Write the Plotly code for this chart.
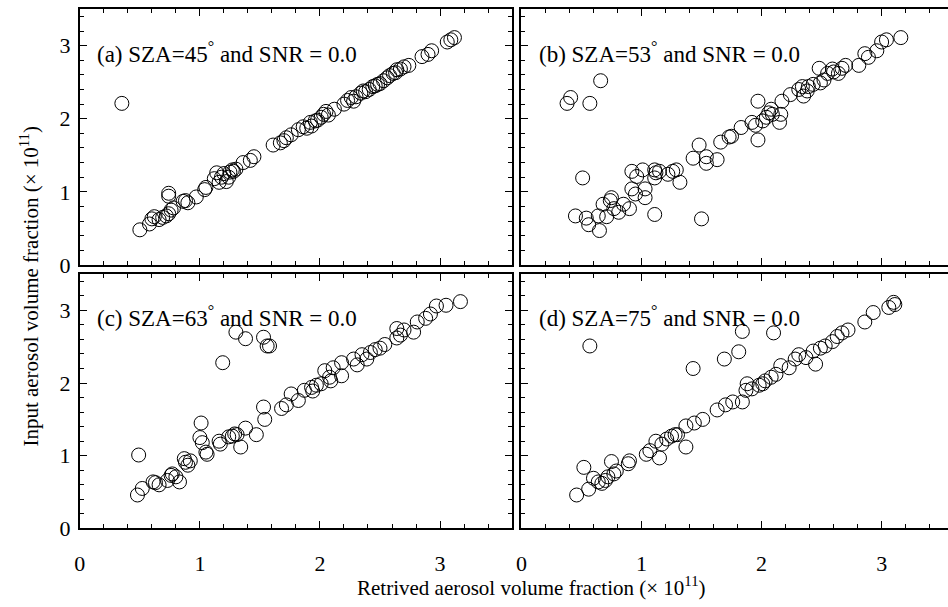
import plotly.graph_objects as go

# ---------------- data (x10^11) ----------------
a_x = [0.35, 0.50, 0.58, 0.60, 0.62, 0.66, 0.69, 0.72, 0.74, 0.76, 0.74, 0.74, 0.78, 0.86, 0.88, 0.90,
       0.97, 1.04, 1.05, 1.12, 1.14, 1.16, 1.18, 1.20, 1.22, 1.24, 1.25, 1.27, 1.28, 1.30, 1.36, 1.42,
       1.45, 1.61, 1.67, 1.70, 1.72, 1.76, 1.82, 1.86, 1.89, 1.92, 1.93, 1.96, 1.98, 2.01, 2.03, 2.05,
       2.07, 2.12, 2.20, 2.23, 2.26, 2.28, 2.30, 2.34, 2.36, 2.38, 2.41, 2.44, 2.46, 2.48, 2.50, 2.53,
       2.56, 2.58, 2.61, 2.63, 2.64, 2.67, 2.70, 2.74, 2.85, 2.90, 2.93, 3.06, 3.09, 3.12]
a_y = [2.21, 0.48, 0.56, 0.63, 0.66, 0.62, 0.65, 0.67, 0.70, 0.75, 0.94, 0.98, 0.78, 0.87, 0.88, 0.85,
       0.93, 1.03, 1.06, 1.18, 1.26, 1.13, 1.20, 1.25, 1.14, 1.20, 1.27, 1.30, 1.28, 1.31, 1.40, 1.43,
       1.48, 1.64, 1.67, 1.70, 1.74, 1.78, 1.85, 1.89, 1.87, 1.95, 1.90, 1.97, 1.98, 2.02, 2.06, 2.10,
       2.05, 2.13, 2.20, 2.25, 2.29, 2.24, 2.30, 2.35, 2.38, 2.37, 2.40, 2.44, 2.45, 2.47, 2.48, 2.52,
       2.56, 2.59, 2.62, 2.63, 2.67, 2.68, 2.71, 2.73, 2.85, 2.88, 2.93, 3.05, 3.08, 3.11]

b_x = [0.38, 0.41, 0.57, 0.66, 0.51, 0.45, 0.54, 0.56, 0.64, 0.65, 0.68, 0.71, 0.74, 0.75, 0.77, 0.81,
       0.85, 0.90, 0.92, 0.92, 0.95, 0.96, 1.01, 1.03, 1.03, 1.11, 1.11, 1.11, 1.12, 1.15, 1.22, 1.26,
       1.29, 1.32, 1.43, 1.48, 1.50, 1.54, 1.54, 1.63, 1.66, 1.73, 1.75, 1.83, 1.92, 1.95, 1.97, 1.97,
       2.01, 2.04, 2.06, 2.08, 2.09, 2.15, 2.16, 2.17, 2.24, 2.31, 2.34, 2.35, 2.38, 2.39, 2.43, 2.48,
       2.49, 2.52, 2.55, 2.59, 2.60, 2.64, 2.67, 2.70, 2.81, 2.86, 2.89, 2.96, 3.00, 3.04, 3.16]
b_y = [2.21, 2.29, 2.21, 2.52, 1.19, 0.67, 0.64, 0.55, 0.67, 0.47, 0.83, 0.66, 0.88, 0.92, 0.77, 0.72,
       0.83, 0.77, 1.28, 1.04, 0.97, 1.21, 1.30, 1.04, 0.92, 1.30, 1.19, 0.69, 1.26, 1.28, 1.24, 1.28,
       1.30, 1.13, 1.46, 1.64, 0.63, 1.48, 1.39, 1.44, 1.68, 1.75, 1.76, 1.88, 1.95, 1.91, 2.24, 1.71,
       1.97, 2.02, 2.08, 2.13, 2.06, 1.95, 2.06, 2.24, 2.33, 2.40, 2.44, 2.31, 2.38, 2.44, 2.47, 2.69,
       2.49, 2.53, 2.62, 2.68, 2.64, 2.62, 2.69, 2.73, 2.73, 2.89, 2.84, 2.93, 3.05, 3.08, 3.11]

c_x = [0.49, 0.48, 0.52, 0.61, 0.63, 0.66, 0.73, 0.76, 0.77, 0.80, 0.83, 0.87, 0.88, 0.90, 0.92, 1.01,
       1.00, 1.02, 1.05, 1.06, 1.16, 1.17, 1.24, 1.27, 1.29, 1.31, 1.34, 1.38, 1.47, 1.53, 1.54, 1.30,
       1.38, 1.53, 1.56, 1.58, 1.19, 1.68, 1.72, 1.76, 1.82, 1.87, 1.93, 1.94, 1.97, 2.01, 2.04, 2.08,
       2.09, 2.11, 2.18, 2.18, 2.28, 2.31, 2.35, 2.39, 2.42, 2.46, 2.50, 2.54, 2.64, 2.64, 2.67, 2.70,
       2.78, 2.81, 2.88, 2.92, 2.97, 3.05, 3.17]
c_y = [1.01, 0.46, 0.55, 0.64, 0.63, 0.60, 0.66, 0.73, 0.75, 0.71, 0.64, 0.96, 0.91, 0.87, 0.93, 1.45,
       1.25, 1.18, 1.05, 1.02, 1.20, 1.16, 1.26, 1.27, 1.30, 1.29, 1.12, 1.38, 1.29, 1.67, 1.50, 2.70,
       2.61, 2.63, 2.51, 2.51, 2.28, 1.65, 1.70, 1.85, 1.76, 1.90, 1.94, 1.89, 1.97, 1.99, 2.17, 2.08,
       2.03, 2.21, 2.28, 2.10, 2.33, 2.25, 2.39, 2.33, 2.42, 2.46, 2.48, 2.53, 2.62, 2.75, 2.66, 2.73,
       2.70, 2.84, 2.89, 2.95, 3.06, 3.07, 3.12]

d_x = [0.46, 0.52, 0.56, 0.57, 0.60, 0.64, 0.67, 0.70, 0.72, 0.75, 0.77, 0.79, 0.89, 0.90, 1.04, 1.07,
       1.12, 1.15, 1.17, 1.21, 1.25, 1.28, 1.30, 1.37, 1.37, 1.43, 1.44, 1.51, 1.63, 1.69, 1.70, 1.76,
       1.81, 1.84, 1.84, 1.87, 1.88, 1.92, 1.98, 2.01, 2.03, 2.08, 2.10, 2.12, 2.16, 2.23, 2.28, 2.31,
       2.37, 2.43, 2.45, 2.49, 2.53, 2.59, 2.63, 2.67, 2.72, 2.86, 2.93, 3.06, 3.10, 3.11]
d_y = [0.46, 0.84, 0.54, 2.51, 0.69, 0.64, 0.62, 0.66, 0.71, 0.92, 0.75, 0.79, 0.89, 0.93, 1.02, 1.07,
       1.20, 0.97, 1.16, 1.23, 1.27, 1.29, 1.29, 1.12, 1.41, 2.20, 1.45, 1.50, 1.63, 2.33, 1.70, 1.74,
       2.43, 1.74, 2.71, 1.90, 1.99, 1.92, 1.97, 1.99, 2.03, 2.08, 2.69, 2.12, 2.24, 2.21, 2.33, 2.39,
       2.35, 2.44, 2.26, 2.48, 2.51, 2.57, 2.64, 2.69, 2.73, 2.84, 2.97, 3.04, 3.11, 3.08]

labels = ["(a) SZA=45<sup>°</sup> and SNR = 0.0",
          "(b) SZA=53<sup>°</sup> and SNR = 0.0",
          "(c) SZA=63<sup>°</sup> and SNR = 0.0",
          "(d) SZA=75<sup>°</sup> and SNR = 0.0"]
x_ticks = [0, 1, 2, 3]
y_ticks = [0, 1, 2, 3]
x_title = "Retrived aerosol volume fraction (× 10<sup>11</sup>)"
y_title = "Input aerosol volume fraction (× 10<sup>11</sup>)"

# ---------------- layout ----------------
W, H = 948, 607
FONT = "Liberation Serif, Times New Roman, serif"
xl = [74.3 / W, 509.3 / W]
xr = [518.7 / W, 1.0]
yt = [1 - 270.7 / H, 1 - 9.3 / H]
yb = [1 - 540.0 / H, 1 - 280.0 / H]
xr_max = 3.6 * (W - 518.7) / 435.0

fig = go.Figure()
panels = [
    (a_x, a_y, "x", "y", xl, yt, 3.6, True, False),
    (b_x, b_y, "x2", "y2", xr, yt, xr_max, False, False),
    (c_x, c_y, "x3", "y3", xl, yb, 3.6, True, True),
    (d_x, d_y, "x4", "y4", xr, yb, xr_max, False, True),
]

for i, (xs, ys, xa, ya, xd, yd, xmax, left, bottom) in enumerate(panels):
    fig.add_trace(go.Scatter(
        x=xs, y=ys, xaxis=xa, yaxis=ya, mode="markers",
        marker=dict(symbol="circle-open", size=14, color="black", line=dict(width=1, color="black")),
        showlegend=False, hoverinfo="skip"))
    xkey = "xaxis" if i == 0 else f"xaxis{i+1}"
    ykey = "yaxis" if i == 0 else f"yaxis{i+1}"
    fig.layout[xkey] = dict(
        domain=xd, range=[0, xmax], anchor=ya, showgrid=False, zeroline=False,
        showline=True, linecolor="black", linewidth=2, mirror="allticks",
        ticks="inside", ticklen=7, tickwidth=1, tickcolor="black",
        tickvals=x_ticks, ticktext=[str(v) for v in x_ticks], showticklabels=bottom,
        ticklabelstandoff=14,
        tickfont=dict(family=FONT, size=22, color="black"),
        minor=dict(dtick=0.2, tick0=0, ticks="inside", ticklen=4, tickwidth=1, tickcolor="black", showgrid=False),
    )
    fig.layout[ykey] = dict(
        domain=yd, range=[0, 3.5], anchor=xa, showgrid=False, zeroline=False,
        showline=True, linecolor="black", linewidth=2, mirror="allticks" if left else False,
        ticks="inside", ticklen=7, tickwidth=1, tickcolor="black",
        tickvals=y_ticks, ticktext=[str(v) for v in y_ticks], showticklabels=left,
        ticklabelstandoff=3,
        tickfont=dict(family=FONT, size=22, color="black"),
        minor=dict(dtick=0.2, tick0=0, ticks="inside", ticklen=4, tickwidth=1, tickcolor="black", showgrid=False),
    )
    fig.add_annotation(
        x=0.13, y=2.91, xref=xa, yref=ya, text=labels[i], showarrow=False,
        xanchor="left", yanchor="middle", font=dict(family=FONT, size=23, color="black"))

fig.add_annotation(
    x=528 / W, y=1 - 599 / H, xref="paper", yref="paper", text=x_title, showarrow=False,
    xanchor="center", yanchor="middle", font=dict(family=FONT, size=21, color="black"))
fig.add_annotation(
    x=24 / W, y=1 - 292 / H, xref="paper", yref="paper", text=y_title, showarrow=False,
    textangle=-90, xanchor="center", yanchor="middle", font=dict(family=FONT, size=21, color="black"))

fig.update_layout(
    width=W, height=H, margin=dict(l=0, r=0, t=0, b=0),
    paper_bgcolor="white", plot_bgcolor="white",
)

fig.write_html("out.html")
